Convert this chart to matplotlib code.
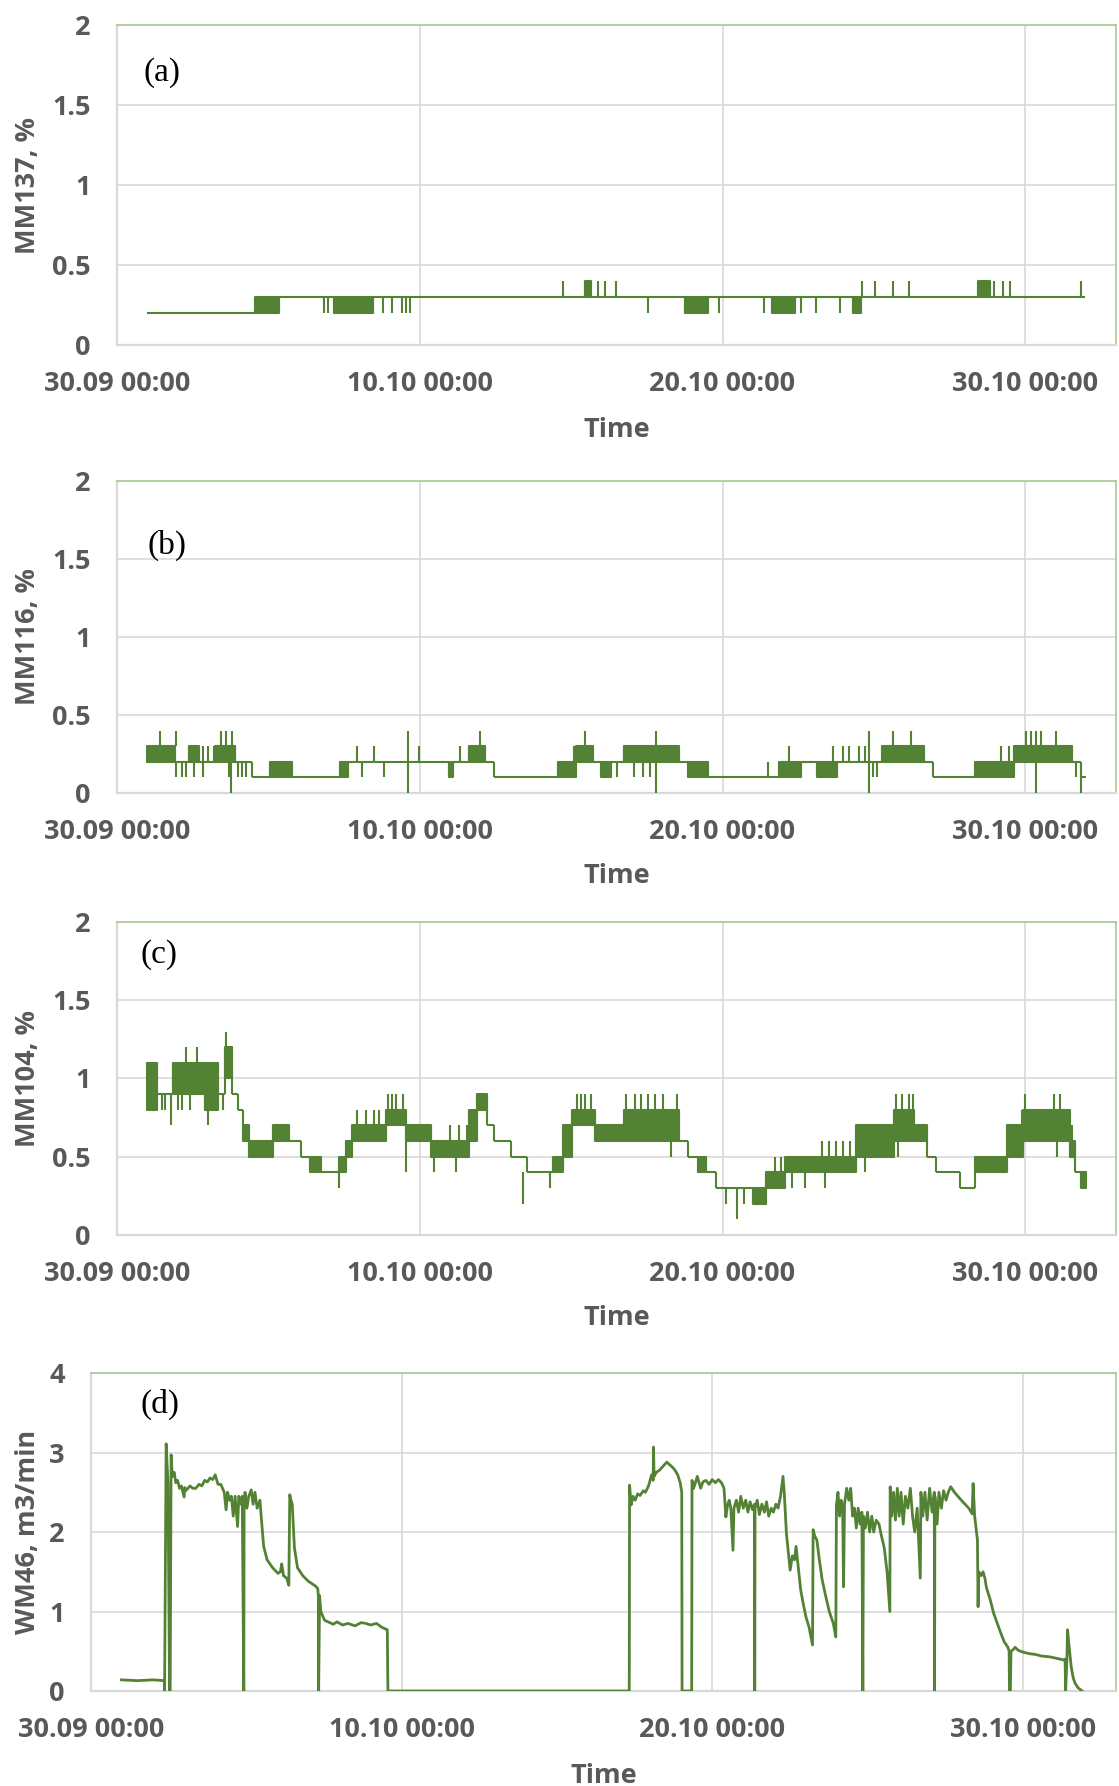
import matplotlib
matplotlib.use("Agg")
import matplotlib.pyplot as plt

# --- colours / fonts ---
GREEN = "#548235"
FRAME = "#A9C98F"
GRID = "#D9D9D9"
TXT = "#595959"
FONT = ["Open Sans", "DejaVu Sans"]

# ==========================================
# DATA (time in days since 30.09 00:00)
# ==========================================
x_ticks = [0, 10, 20, 30]
x_ticklabels = ["30.09 00:00", "10.10 00:00", "20.10 00:00", "30.10 00:00"]
pct_ticks = [0, 0.5, 1, 1.5, 2]
pct_ticklabels = ["0", "0.5", "1", "1.5", "2"]
flow_ticks = [0, 1, 2, 3, 4]
flow_ticklabels = ["0", "1", "2", "3", "4"]

# (a) MM137 - step levels, dense toggling drawn as bands (lo < hi)
a_t = [1.00, 4.57, 5.36, 7.17, 8.45, 15.47, 15.64, 18.77, 19.51, 21.64, 22.38, 24.30, 24.57, 28.45, 28.83]
a_lo = [0.2, 0.2, 0.3, 0.2, 0.3, 0.3, 0.3, 0.2, 0.3, 0.2, 0.3, 0.2, 0.3, 0.3, 0.3]
a_hi = [0.2, 0.3, 0.3, 0.3, 0.3, 0.4, 0.3, 0.3, 0.3, 0.3, 0.3, 0.3, 0.3, 0.4, 0.3]
a_end = 31.96
a_spikes = [(6.85, 0.2, 0.3), (6.98, 0.2, 0.3), (8.77, 0.2, 0.3), (9.09, 0.2, 0.3), (9.40, 0.2, 0.3),
            (9.55, 0.2, 0.3), (9.68, 0.2, 0.3), (14.72, 0.3, 0.4), (15.89, 0.3, 0.4), (16.11, 0.3, 0.4),
            (16.49, 0.3, 0.4), (17.55, 0.2, 0.3), (19.89, 0.2, 0.3), (21.36, 0.2, 0.3), (22.60, 0.2, 0.3),
            (23.09, 0.2, 0.3), (23.87, 0.2, 0.3), (24.62, 0.3, 0.4), (25.04, 0.3, 0.4), (25.64, 0.3, 0.4),
            (26.17, 0.3, 0.4), (28.98, 0.3, 0.4), (29.26, 0.3, 0.4), (29.51, 0.3, 0.4), (31.85, 0.3, 0.4)]

# (b) MM116
b_t = [1.00, 1.91, 2.38, 2.70, 3.23, 3.91, 4.45, 5.04, 5.79, 7.38, 7.64, 10.96, 11.11, 11.64, 12.17,
       12.45, 14.55, 15.15, 15.72, 16.00, 16.32, 16.74, 18.55, 18.87, 19.51, 21.85, 22.60, 23.13,
       23.77, 25.26, 26.64, 26.96, 28.34, 29.62, 31.53, 31.85]
b_lo = [0.2, 0.2, 0.2, 0.2, 0.2, 0.2, 0.1, 0.1, 0.1, 0.1, 0.2, 0.1, 0.2, 0.2, 0.2,
        0.1, 0.1, 0.2, 0.2, 0.1, 0.2, 0.2, 0.2, 0.1, 0.1, 0.1, 0.2, 0.1,
        0.2, 0.2, 0.2, 0.1, 0.1, 0.2, 0.2, 0.1]
b_hi = [0.3, 0.2, 0.3, 0.2, 0.3, 0.2, 0.1, 0.2, 0.1, 0.2, 0.2, 0.2, 0.2, 0.3, 0.2,
        0.1, 0.2, 0.3, 0.2, 0.2, 0.2, 0.3, 0.2, 0.2, 0.1, 0.2, 0.2, 0.2,
        0.2, 0.3, 0.2, 0.1, 0.2, 0.3, 0.2, 0.1]
b_end = 32.02
b_spikes = [(1.43, 0.3, 0.4), (1.96, 0.1, 0.2), (1.96, 0.3, 0.4), (2.13, 0.1, 0.2), (2.28, 0.1, 0.2),
            (2.55, 0.1, 0.2), (2.85, 0.1, 0.3), (3.02, 0.2, 0.3), (3.19, 0.2, 0.3), (3.45, 0.3, 0.4),
            (3.60, 0.3, 0.4), (3.70, 0.1, 0.2), (3.77, 0.0, 0.2), (3.81, 0.3, 0.4), (3.98, 0.1, 0.2),
            (4.13, 0.1, 0.2), (4.26, 0.1, 0.2), (7.91, 0.2, 0.3), (8.09, 0.1, 0.2), (8.49, 0.2, 0.3),
            (8.83, 0.1, 0.2), (9.62, 0.0, 0.4), (9.98, 0.2, 0.3), (11.32, 0.2, 0.3), (12.00, 0.3, 0.4),
            (15.09, 0.2, 0.3), (15.47, 0.3, 0.4), (16.53, 0.1, 0.2), (16.74, 0.2, 0.3), (17.06, 0.1, 0.2),
            (17.38, 0.1, 0.2), (17.60, 0.1, 0.2), (17.81, 0.0, 0.4), (21.49, 0.1, 0.2), (22.21, 0.2, 0.3),
            (23.66, 0.2, 0.3), (23.98, 0.2, 0.3), (24.19, 0.2, 0.3), (24.51, 0.2, 0.3), (24.72, 0.2, 0.3),
            (24.83, 0.0, 0.4), (24.98, 0.1, 0.2), (25.09, 0.1, 0.2), (25.64, 0.3, 0.4), (26.21, 0.3, 0.4),
            (29.19, 0.2, 0.3), (29.45, 0.2, 0.3), (30.04, 0.3, 0.4), (30.19, 0.3, 0.4), (30.36, 0.0, 0.4),
            (30.51, 0.3, 0.4), (31.00, 0.3, 0.4), (31.68, 0.1, 0.2), (31.85, 0.0, 0.2)]

# (c) MM104
c_t = [1.00, 1.32, 1.85, 2.91, 3.34, 3.55, 3.81, 3.98, 4.15, 4.36, 5.15, 5.68, 6.06, 6.38, 6.74,
       7.34, 7.55, 7.77, 8.87, 9.55, 10.36, 11.64, 11.89, 12.23, 12.45, 13.02, 13.55, 14.40, 14.72,
       15.04, 15.79, 16.74, 18.55, 18.87, 19.19, 19.47, 19.77, 21.00, 21.43, 22.06, 23.13, 24.40,
       25.68, 26.32, 26.74, 27.06, 27.85, 28.34, 29.40, 29.94, 31.47, 31.64, 31.85]
c_lo = [0.8, 0.9, 0.9, 0.8, 0.9, 1.0, 0.9, 0.8, 0.6, 0.5, 0.6, 0.6, 0.5, 0.4, 0.4,
        0.4, 0.5, 0.6, 0.7, 0.6, 0.5, 0.6, 0.8, 0.7, 0.6, 0.5, 0.4, 0.4, 0.5,
        0.7, 0.6, 0.6, 0.6, 0.5, 0.4, 0.4, 0.3, 0.2, 0.3, 0.4, 0.4, 0.5,
        0.6, 0.6, 0.5, 0.4, 0.3, 0.4, 0.5, 0.6, 0.5, 0.4, 0.3]
c_hi = [1.1, 0.9, 1.1, 1.1, 0.9, 1.2, 0.9, 0.8, 0.7, 0.6, 0.7, 0.6, 0.5, 0.5, 0.4,
        0.5, 0.6, 0.7, 0.8, 0.7, 0.6, 0.8, 0.9, 0.7, 0.6, 0.5, 0.4, 0.5, 0.7,
        0.8, 0.7, 0.8, 0.6, 0.5, 0.5, 0.4, 0.3, 0.3, 0.4, 0.5, 0.5, 0.7,
        0.8, 0.7, 0.5, 0.4, 0.3, 0.5, 0.7, 0.8, 0.6, 0.4, 0.4]
c_end = 32.02
c_spikes = [(1.47, 0.8, 0.9), (1.60, 0.8, 0.9), (1.79, 0.7, 0.9), (2.00, 0.8, 0.9), (2.13, 0.8, 0.9),
            (2.28, 1.1, 1.2), (2.40, 0.8, 0.9), (2.64, 1.1, 1.2), (3.02, 0.7, 0.8), (3.50, 0.8, 0.9),
            (3.60, 1.2, 1.3), (7.32, 0.3, 0.4), (7.91, 0.7, 0.8), (8.23, 0.7, 0.8), (8.49, 0.7, 0.8),
            (8.66, 0.7, 0.8), (8.94, 0.8, 0.9), (9.09, 0.8, 0.9), (9.23, 0.8, 0.9), (9.45, 0.8, 0.9),
            (9.55, 0.4, 0.6), (10.47, 0.4, 0.5), (11.00, 0.6, 0.7), (11.21, 0.4, 0.5), (11.30, 0.6, 0.7),
            (11.55, 0.6, 0.7), (13.40, 0.2, 0.4), (14.30, 0.3, 0.4), (15.19, 0.8, 0.9), (15.32, 0.8, 0.9),
            (15.47, 0.8, 0.9), (15.64, 0.8, 0.9), (16.81, 0.8, 0.9), (17.11, 0.8, 0.9), (17.32, 0.8, 0.9),
            (17.55, 0.8, 0.9), (17.77, 0.8, 0.9), (18.02, 0.8, 0.9), (18.51, 0.8, 0.9), (18.30, 0.5, 0.6),
            (20.10, 0.2, 0.3), (20.47, 0.1, 0.3), (20.70, 0.2, 0.3), (21.72, 0.4, 0.5), (21.93, 0.4, 0.5),
            (22.30, 0.3, 0.4), (22.72, 0.3, 0.4), (23.40, 0.3, 0.4), (23.30, 0.5, 0.6), (23.52, 0.5, 0.6),
            (23.75, 0.5, 0.6), (23.98, 0.5, 0.6), (24.20, 0.5, 0.6), (24.70, 0.4, 0.5), (25.80, 0.5, 0.6),
            (25.73, 0.8, 0.9), (25.94, 0.8, 0.9), (26.15, 0.8, 0.9), (26.30, 0.8, 0.9),
            (29.89, 0.7, 0.8), (30.00, 0.8, 0.9), (30.96, 0.8, 0.9), (31.05, 0.5, 0.6), (31.15, 0.8, 0.9),
            (31.55, 0.6, 0.7)]

# (d) WM46 flow, m3/min
d_t = [0.98, 1.5, 2.0, 2.36, 2.37, 2.42, 2.48, 2.53, 2.55, 2.58, 2.62, 2.68, 2.73, 2.79, 2.85, 2.91,
       3.0, 3.02, 3.05, 3.19, 3.28, 3.37, 3.48, 3.57, 3.66, 3.75, 3.83, 3.92, 4.0, 4.09, 4.18, 4.29,
       4.35, 4.4, 4.46, 4.52, 4.58, 4.64, 4.72, 4.76, 4.82, 4.87, 4.92, 4.93, 4.96, 5.02, 5.08, 5.16,
       5.22, 5.28, 5.35, 5.44, 5.5, 5.56, 5.67, 5.85, 6.02, 6.1, 6.14, 6.2, 6.3, 6.37, 6.4, 6.44,
       6.48, 6.55, 6.65, 6.82, 7.0, 7.23, 7.3, 7.32, 7.33, 7.36, 7.4, 7.52, 7.69, 7.8, 7.92, 8.1,
       8.27, 8.5, 8.7, 8.85, 9.0, 9.19, 9.37, 9.54, 9.56, 17.33,
       17.34, 17.39, 17.45, 17.52, 17.6, 17.68, 17.78, 17.85, 17.95, 18.05, 18.1, 18.11, 18.13, 18.2,
       18.31, 18.4, 18.54, 18.62, 18.71, 18.8, 18.89, 18.97, 19.02, 19.03, 19.34, 19.35, 19.4, 19.46,
       19.52, 19.58, 19.63, 19.7, 19.8, 19.9, 20.0, 20.1, 20.2, 20.3, 20.38, 20.44, 20.5, 20.55, 20.6,
       20.67, 20.7, 20.78, 20.85, 20.92, 21.0, 21.08, 21.15, 21.22, 21.3, 21.36, 21.37, 21.38, 21.45,
       21.52, 21.6, 21.68, 21.75, 21.82, 21.9, 21.97, 22.05, 22.12, 22.2, 22.28, 22.32, 22.39, 22.45,
       22.51, 22.58, 22.65, 22.7, 22.76, 22.85, 22.93, 23.02, 23.12, 23.23, 23.25, 23.3, 23.37, 23.45,
       23.54, 23.65, 23.77, 23.9, 23.98, 24.0, 24.05, 24.1, 24.15, 24.2, 24.23, 24.26, 24.33, 24.4,
       24.46, 24.52, 24.58, 24.64, 24.7, 24.76, 24.82, 24.85, 24.87, 24.93, 25.0, 25.07, 25.14, 25.2,
       25.28, 25.37, 25.45, 25.54, 25.63, 25.72, 25.73, 25.78, 25.84, 25.9, 25.96, 26.02, 26.08, 26.15,
       26.22, 26.3, 26.38, 26.45, 26.52, 26.6, 26.7, 26.72, 26.78, 26.85, 26.92, 27.0, 27.08, 27.15,
       27.16, 27.17, 27.24, 27.3, 27.38, 27.45, 27.53, 27.6, 27.68, 27.8, 27.91, 28.02, 28.14, 28.26,
       28.37, 28.4, 28.45, 28.54, 28.56, 28.58, 28.66, 28.72, 28.78, 28.83, 28.95, 29.06, 29.18, 29.29,
       29.4, 29.52, 29.56, 29.57, 29.6, 29.62, 29.69, 29.75, 29.86, 30.0, 30.2, 30.4, 30.6, 30.86,
       31.1, 31.32, 31.36, 31.38, 31.42, 31.44, 31.48, 31.52, 31.56, 31.62, 31.68, 31.78, 31.91]
d_v = [0.14, 0.13, 0.14, 0.13, 0.0, 3.11, 2.61, 0.0, 0.0, 2.97, 2.7, 2.75, 2.62, 2.65, 2.55, 2.58,
       2.44, 2.56, 2.52, 2.58, 2.55, 2.55, 2.6, 2.58, 2.65, 2.63, 2.68, 2.66, 2.72, 2.6, 2.6, 2.5,
       2.28, 2.5, 2.4, 2.45, 2.2, 2.45, 2.07, 2.45, 2.35, 2.45, 0.0, 2.35, 2.5, 2.3, 2.45, 2.53,
       2.35, 2.5, 2.3, 2.4, 2.1, 1.82, 1.65, 1.55, 1.48, 1.5, 1.6, 1.45, 1.42, 1.33, 2.47, 2.4,
       2.35, 1.8, 1.55, 1.45, 1.38, 1.32, 1.29, 1.2, 0.0, 1.2, 1.0, 0.89, 0.86, 0.84, 0.87, 0.83,
       0.85, 0.82, 0.86, 0.85, 0.83, 0.85, 0.8, 0.77, 0.0, 0.0,
       2.59, 2.34, 2.45, 2.4, 2.48, 2.46, 2.52, 2.5, 2.58, 2.72, 2.65, 3.07, 2.7, 2.75,
       2.78, 2.82, 2.88, 2.85, 2.82, 2.78, 2.72, 2.62, 2.5, 0.0, 0.0, 2.65, 2.55, 2.62,
       2.7, 2.62, 2.55, 2.63, 2.65, 2.6, 2.66, 2.62, 2.66, 2.62, 2.55, 2.19, 2.35, 2.4, 2.3,
       1.77, 2.3, 2.4, 2.25, 2.45, 2.3, 2.4, 2.25, 2.38, 2.28, 2.35, 0.0, 2.3, 2.4,
       2.22, 2.35, 2.25, 2.38, 2.2, 2.3, 2.25, 2.35, 2.3, 2.45, 2.7, 2.5, 1.98, 1.75,
       1.52, 1.7, 1.65, 1.82, 1.6, 1.27, 1.1, 0.93, 0.8, 0.58, 2.03, 1.95, 1.9, 1.65,
       1.4, 1.2, 1.0, 0.85, 0.68, 2.34, 2.5, 2.2, 2.4, 2.3, 1.31, 2.35, 2.55, 2.4,
       2.55, 2.2, 2.3, 2.05, 2.3, 2.1, 2.25, 0.0, 2.2, 2.05, 2.25, 2.0, 2.2, 2.0,
       2.15, 2.1, 1.95, 1.8, 1.5, 1.0, 2.57, 2.2, 2.5, 2.15, 2.55, 2.2, 2.5, 2.1,
       2.45, 2.3, 2.55, 2.2, 2.0, 2.3, 1.42, 2.5, 2.2, 2.5, 2.15, 2.55, 2.25, 2.5,
       0.0, 2.45, 2.1, 2.5, 2.3, 2.52, 2.4, 2.5, 2.57, 2.5, 2.45, 2.4, 2.35, 2.3,
       2.23, 2.61, 2.2, 1.9, 1.06, 1.5, 1.45, 1.5, 1.42, 1.3, 1.15, 0.98, 0.85, 0.73,
       0.62, 0.55, 0.5, 0.0, 0.0, 0.5, 0.52, 0.55, 0.51, 0.49, 0.47, 0.46, 0.44, 0.43,
       0.41, 0.39, 0.4, 0.0, 0.4, 0.77, 0.6, 0.45, 0.3, 0.17, 0.1, 0.04, 0.0]


def draw_levels(ax, t, lo, hi, end, spikes):
    edges = t + [end]
    for i in range(len(t)):
        ax.fill_between([edges[i], edges[i + 1]], lo[i], hi[i], facecolor=GREEN,
                        edgecolor=GREEN, linewidth=1.5, zorder=3)
    for i in range(len(t) - 1):
        ax.vlines(edges[i + 1], min(lo[i], lo[i + 1]), max(hi[i], hi[i + 1]),
                  color=GREEN, linewidth=1.5, zorder=3)
    for s_t, s_lo, s_hi in spikes:
        ax.vlines(s_t, s_lo, s_hi, color=GREEN, linewidth=1.5, zorder=3)


def style_axes(ax, ylabel, tag, tag_xy, yticks, yticklabels, ylabel_x):
    ax.set_xlim(0, 33)
    ax.set_ylim(yticks[0], yticks[-1])
    ax.set_xticks(x_ticks)
    ax.set_xticklabels(x_ticklabels)
    ax.set_yticks(yticks)
    ax.set_yticklabels(yticklabels)
    ax.grid(True, color=GRID, linewidth=1.2, zorder=0)
    ax.set_axisbelow(True)
    for side in ["top", "right"]:
        ax.spines[side].set_color(FRAME)
        ax.spines[side].set_linewidth(1.2)
    for side in ["left", "bottom"]:
        ax.spines[side].set_color(GRID)
        ax.spines[side].set_linewidth(1.6)
    ax.tick_params(axis="both", length=0, labelsize=19.5, labelcolor=TXT)
    ax.tick_params(axis="x", pad=19)
    ax.tick_params(axis="y", pad=19)
    for lab in ax.get_xticklabels() + ax.get_yticklabels():
        lab.set_fontfamily(FONT)
        lab.set_fontweight("bold")
    ax.set_ylabel(ylabel, fontsize=19.5, color=TXT, fontweight="bold", family=FONT)
    ax.yaxis.set_label_coords(ylabel_x, 0.5)
    ax.set_xlabel("Time", fontsize=19.5, color=TXT, fontweight="bold", family=FONT)
    ax.xaxis.set_label_coords(0.5, -0.225)
    ax.text(tag_xy[0], tag_xy[1], tag, transform=ax.transAxes, fontsize=24,
            family="Liberation Serif", ha="left", va="center", color="black")


fig = plt.figure(figsize=(11.19, 17.86), dpi=100)

ax_a = fig.add_axes([0.1046, 0.8068, 0.8928, 0.1790])
ax_b = fig.add_axes([0.1046, 0.5560, 0.8928, 0.1747])
ax_c = fig.add_axes([0.1046, 0.3085, 0.8928, 0.1753])
ax_d = fig.add_axes([0.0813, 0.0532, 0.9160, 0.1780])

draw_levels(ax_a, a_t, a_lo, a_hi, a_end, a_spikes)
draw_levels(ax_b, b_t, b_lo, b_hi, b_end, b_spikes)
draw_levels(ax_c, c_t, c_lo, c_hi, c_end, c_spikes)
ax_d.plot(d_t, d_v, color=GREEN, linewidth=2.0, zorder=3)

style_axes(ax_a, "MM137, %", "(a)", (0.026, 0.853), pct_ticks, pct_ticklabels, -0.076)
style_axes(ax_b, "MM116, %", "(b)", (0.030, 0.795), pct_ticks, pct_ticklabels, -0.076)
style_axes(ax_c, "MM104, %", "(c)", (0.023, 0.895), pct_ticks, pct_ticklabels, -0.076)
style_axes(ax_d, "WM46, m3/min", "(d)", (0.048, 0.900), flow_ticks, flow_ticklabels, -0.049)

fig.savefig("out.png", dpi=100)
